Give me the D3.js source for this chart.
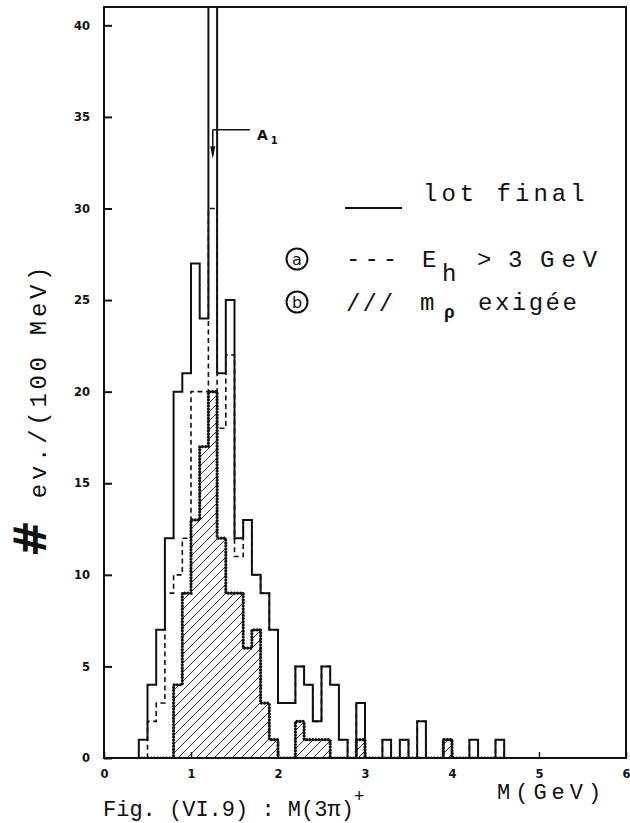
<!DOCTYPE html>
<html>
<head>
<meta charset="utf-8">
<script src="https://cdn.jsdelivr.net/npm/d3@7/dist/d3.min.js"></script>
<style>
  body { margin: 0; background: #fff; }
  svg { display: block; }
  .mono { font-family: "Liberation Mono", "DejaVu Sans Mono", monospace; fill: #111; }
  .tick { font-family: "DejaVu Sans", sans-serif; font-weight: bold; font-size: 11.5px; fill: #111; }
</style>
</head>
<body>
<svg id="chart" width="630" height="823"></svg>
<script>
// Lower edges of the 100 MeV bins (GeV)
const binStarts = [0.4, 0.5, 0.6, 0.7, 0.8, 0.9, 1.0, 1.1, 1.2, 1.3,
                   1.4, 1.5, 1.6, 1.7, 1.8, 1.9, 2.0, 2.1, 2.2, 2.3,
                   2.4, 2.5, 2.6, 2.7, 2.8, 2.9, 3.0, 3.1, 3.2, 3.3,
                   3.4, 3.5, 3.6, 3.7, 3.8, 3.9, 4.0, 4.1, 4.2, 4.3,
                   4.4, 4.5];
const binWidth = 0.1;

// Final sample (solid)
const lotFinal = [1, 4, 7, 12, 20, 21, 27, 24, 44, 21,
                  25, 12, 13, 10, 9, 7, 3, 3, 5, 4,
                  2, 5, 4, 1, 0, 3, 0, 0, 1, 0,
                  1, 0, 2, 0, 0, 1, 0, 0, 1, 0,
                  0, 1];
// (a) E_h > 3 GeV (dashed)
const cutEh = [0, 2, 3, 9, 10, 12, 20, 20, 30, 18,
               22, 11, 13, 10, 9, 7, 3, 3, 5, 4,
               2, 5, 4, 1, 0, 3, 0, 0, 1, 0,
               1, 0, 2, 0, 0, 1, 0, 0, 1, 0,
               0, 1];
// (b) rho mass required (hatched)
const cutRho = [0, 0, 0, 0, 4, 9, 13, 17, 20, 12,
                9, 9, 6, 7, 3, 1, 0, 0, 2, 1,
                1, 1, 0, 0, 0, 1, 0, 0, 0, 0,
                0, 0, 0, 0, 0, 1, 0, 0, 0, 0,
                0, 0];

const xTicks = [0, 1, 2, 3, 4, 5, 6];
const yTicks = [0, 5, 10, 15, 20, 25, 30, 35, 40];
const a1Mass = 1.25;

const svg = d3.select("#chart");
const mLeft = 104, mRight = 626, mTop = 7, mBottom = 758;

const x = d3.scaleLinear().domain([0, 6]).range([mLeft, mRight]);
const y = d3.scaleLinear().domain([0, 41]).range([mBottom, mTop]);

const defs = svg.append("defs");
defs.append("clipPath").attr("id", "frame")
  .append("rect").attr("x", mLeft).attr("y", mTop)
  .attr("width", mRight - mLeft).attr("height", mBottom - mTop);

const pat = defs.append("pattern").attr("id", "hatch")
  .attr("patternUnits", "userSpaceOnUse")
  .attr("width", 9).attr("height", 9);
pat.append("path")
  .attr("d", "M-2,2 L2,-2 M0,9 L9,0 M7,11 L11,7")
  .attr("stroke", "#222").attr("stroke-width", 0.9);

// Step outline of a histogram from the bin arrays
function stepPoints(values) {
  const pts = [[binStarts[0], 0]];
  values.forEach((v, i) => {
    pts.push([binStarts[i], v]);
    pts.push([binStarts[i] + binWidth, v]);
  });
  pts.push([binStarts[binStarts.length - 1] + binWidth, 0]);
  return pts;
}
const line = d3.line().x(d => x(d[0])).y(d => y(d[1]));

const plot = svg.append("g").attr("clip-path", "url(#frame)");

// hatched (b)
plot.append("path")
  .attr("d", line(stepPoints(cutRho)) + "Z")
  .attr("fill", "url(#hatch)").attr("stroke", "none");

// solid final sample
plot.append("path")
  .attr("d", line(stepPoints(lotFinal)))
  .attr("fill", "none").attr("stroke", "#111").attr("stroke-width", 2)
  .attr("stroke-linejoin", "miter");

// dashed (a)
plot.append("path")
  .attr("d", line(stepPoints(cutEh)))
  .attr("fill", "none").attr("stroke", "#111").attr("stroke-width", 1.6)
  .attr("stroke-dasharray", "5,3.5");

// beaded outline of hatched region
plot.append("path")
  .attr("d", line(stepPoints(cutRho)))
  .attr("fill", "none").attr("stroke", "#111").attr("stroke-width", 3.2)
  .attr("stroke-linecap", "round").attr("stroke-dasharray", "0.1,3");

// frame
svg.append("rect").attr("x", mLeft).attr("y", mTop)
  .attr("width", mRight - mLeft).attr("height", mBottom - mTop)
  .attr("fill", "none").attr("stroke", "#111").attr("stroke-width", 2);

// axes ticks (inward)
const yAxis = d3.axisLeft(y).tickValues(yTicks).tickSize(-8).tickPadding(14)
  .tickFormat(d3.format("d"));
const gy = svg.append("g").attr("transform", `translate(${mLeft},0)`).call(yAxis);
gy.select(".domain").remove();
gy.selectAll(".tick line").attr("stroke", "#111").attr("stroke-width", 2);
gy.selectAll(".tick text").attr("class", "tick").attr("fill", "#111");

const xAxis = d3.axisBottom(x).tickValues(xTicks).tickSize(-6).tickPadding(12)
  .tickFormat(d3.format("d"));
const gx = svg.append("g").attr("transform", `translate(0,${mBottom})`).call(xAxis);
gx.select(".domain").remove();
gx.selectAll(".tick line").attr("stroke", "#111").attr("stroke-width", 1.5);
gx.selectAll(".tick text").attr("class", "tick").attr("fill", "#111");

// A1 marker
const ax = x(a1Mass);
svg.append("path")
  .attr("d", `M${ax},${y(34.3)} L250,${y(34.3)} M${ax},${y(34.3)} L${ax},${y(32.9)}`)
  .attr("stroke", "#111").attr("stroke-width", 1.5).attr("fill", "none");
svg.append("path")
  .attr("d", `M${ax - 2.5},${y(33.4)} L${ax + 2.5},${y(33.4)} L${ax},${y(32.7)} Z`)
  .attr("fill", "#111");
const a1 = svg.append("text").attr("x", 257).attr("y", 140)
  .attr("font-family", "DejaVu Sans, sans-serif").attr("font-weight", "bold")
  .attr("font-size", 14).attr("fill", "#111");
a1.append("tspan").text("A");
a1.append("tspan").attr("dx", 3).attr("dy", 4).attr("font-size", 10).text("1");

// legend
svg.append("line").attr("x1", 345).attr("x2", 402).attr("y1", 208).attr("y2", 208)
  .attr("stroke", "#111").attr("stroke-width", 2);
svg.append("text").attr("class", "mono").attr("x", 423).attr("y", 201)
  .attr("font-size", 24).attr("letter-spacing", 4).text("lot final");

[["a", 259], ["b", 302]].forEach(([c, cy]) => {
  svg.append("circle").attr("cx", 297).attr("cy", cy).attr("r", 10.5)
    .attr("fill", "none").attr("stroke", "#111").attr("stroke-width", 2);
  svg.append("text").attr("x", 297).attr("y", cy + 5.5).attr("text-anchor", "middle")
    .attr("font-family", "DejaVu Sans, sans-serif").attr("font-size", 16)
    .attr("fill", "#111").text(c);
});

svg.append("text").attr("class", "mono").attr("x", 346).attr("y", 266)
  .attr("font-size", 24).attr("letter-spacing", 4).text("---");
const eh = svg.append("text").attr("class", "mono").attr("font-size", 24);
eh.append("tspan").attr("x", 422).attr("y", 267).text("E");
eh.append("tspan").attr("x", 442).attr("y", 281).text("h");
eh.append("tspan").attr("x", 477).attr("y", 267).text(">");
eh.append("tspan").attr("x", 508).attr("y", 267).text("3");
eh.append("tspan").attr("x", 540).attr("y", 267).attr("letter-spacing", 7).text("GeV");

svg.append("text").attr("class", "mono").attr("x", 346).attr("y", 311)
  .attr("font-size", 24).attr("letter-spacing", 2).text("///");
const mr = svg.append("text").attr("class", "mono").attr("font-size", 24);
mr.append("tspan").attr("x", 420).attr("y", 310).text("m");
mr.append("tspan").attr("x", 444).attr("y", 318).attr("font-size", 18)
  .attr("font-weight", "bold").text("ρ");
mr.append("tspan").attr("x", 478).attr("y", 310).attr("letter-spacing", 2.5).text("exigée");

// axis titles
const yt = svg.append("text").attr("class", "mono")
  .attr("transform", "translate(46,557) rotate(-90)");
yt.append("tspan").attr("font-size", 44).attr("font-weight", "bold")
  .attr("font-family", "DejaVu Serif, serif").text("#");
yt.append("tspan").attr("dx", 22).attr("font-size", 24).attr("letter-spacing", 3.7)
  .text("ev./(100 MeV)");

svg.append("text").attr("class", "mono").attr("x", 497).attr("y", 799)
  .attr("font-size", 22).attr("letter-spacing", 5).text("M(GeV)");

const cap = svg.append("text").attr("class", "mono").attr("x", 103).attr("y", 816)
  .attr("font-size", 22);
cap.append("tspan").text("Fig. (VI.9) : M(3π)");
cap.append("tspan").attr("dy", -14).attr("font-size", 18).text("+");
</script>
</body>
</html>
